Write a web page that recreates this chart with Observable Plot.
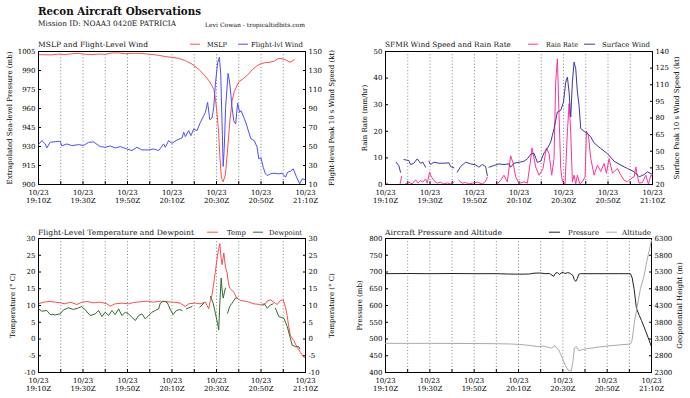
<!DOCTYPE html>
<html><head><meta charset="utf-8">
<script src="https://cdn.jsdelivr.net/npm/d3@7"></script>
<script src="https://cdn.jsdelivr.net/npm/@observablehq/plot@0.6"></script>
<style>
body{margin:0;background:#fff;}
#root{position:relative;width:690px;height:398px;overflow:hidden;background:#fff}
#root svg{position:absolute;}
</style></head><body><div id="root"></div>
<script>
// ---- time axis (minutes after 10/23 19:10Z)
const xTicks = [0,10,20,30,40,50,60,70,80,90,100,110,120];
const xGrid = [10,20,30,40,50,60,70,80,90,100,110];

// ---- Panel 1: MSLP (mb) and flight-level wind (kt)
const mslpTime = [0,3,6,9,12,15,18,21,24,27,30,33,36,39,42,45,48,51,54,57,60,63,66,69,72,75,77,78.8,79.5,80.3,81,81.5,82.2,83,84,85,86,87,88,90,92,94,96,98,100,102,104,106,107.5,109,111,113,114,115];
const mslpValue = [1002.5,1002.4,1002.3,1003,1002.6,1003.2,1003.6,1002.8,1002.5,1003,1002.8,1003.8,1003.9,1003.2,1003.6,1003.6,1003.2,1002.6,1002,1001,1000.4,999.6,997.8,995,991,985.5,981,975,968,955,940,923,905,902.2,907.4,928,950,966,973.5,981,983.5,986.5,990.5,993.5,995.5,996.2,996.5,997.5,999.3,999.5,998.5,996.6,997.5,998.5];
const windTime = [0,1.5,3,3.75,5.25,7.5,9.75,10.5,12.75,15,18,20.25,22.5,24.75,27.75,30,32.25,34.5,36.75,39.75,42,44.25,46.5,49.5,51.75,54,56.25,57,58.5,60,62.25,64.5,65.25,66,67.5,68.5,69.75,71.25,72.75,74.25,75,76,77,78,78.75,79.5,80.5,81.3,81.9,82.5,83,83.5,84.1,85.2,86,87,87.75,88.6,89.5,90.4,91,92.25,93.4,94.5,95.5,97,98.25,99,100,101,102,102.75,104.25,105.75,108,109.5,111,112,113.25,114.5,116,117.4,118.5,120];
const windValue = [51.9,56.2,52.7,48.5,54.4,55.1,55.5,50.6,52.7,50.9,52,51,54.4,54.8,49.9,49.2,50.6,48.5,49.9,47.4,45.7,49.2,46.4,46.4,47.4,45.7,52.7,49.2,56.2,53.4,56.9,59,65,60.4,66.7,61.4,68.4,66.7,75.4,82.4,85.9,96.4,78.2,80,91.2,115.7,138,144,126,73.7,29,49.2,91.2,127,115.7,91.2,77.2,73.7,95.7,85.9,87.7,80.7,73.7,65,58,56.2,49.2,37,38,28.2,21.2,19.4,21.2,21.9,21.2,21.9,17.7,23,24,26.4,17.7,10.7,16,14.9];

// ---- Panel 2: SFMR rain rate (mm/hr) and surface wind (kt); null = gap
const rainTime = [0,1,null,6.5,7.2,null,9,10.5,12,13.5,14.7,15.75,16.8,18,18.75,19.8,20.7,21.75,23.25,24.75,26.25,27.75,29.25,30.75,null,33,34.5,36,37.5,39,41.25,43.5,45,45.75,null,50.25,51.75,53.25,54.75,56.25,57.4,58.5,60,62.25,63.75,65,65.85,67.5,69,70.8,72.3,73.5,74.7,75.75,76.5,77.25,78,78.75,79.5,80.7,81.75,82.5,83.25,84,84.75,85.5,86.25,87.3,88.5,89.7,90.3,91.2,92.25,93.75,95.25,96.75,98.25,99.3,100.5,102,104.25,105.75,107.25,108.75,110.25,111.75,112.5,113.25,114,115.5,117,118.2,119.25,120];
const rainValue = [0.5,0.4,null,0,3,null,0.25,0.9,0.2,1.75,0.5,1.5,0.9,2.1,0.5,4.6,2.75,1.5,0.5,0.9,0.2,0.6,0.2,0.9,null,1.5,0.5,0.75,0.2,0.5,0.9,0.2,1.2,2.75,null,0.2,1.6,3.5,1,10.8,7.9,2.9,0.4,1,0.5,7.9,13.75,6.6,3.5,6,13.75,11.6,3.5,9.75,38.5,47.25,26,6,1,0.3,19.75,30.4,19.75,1,3.5,0.3,3.5,0.3,1,2.9,20,18.5,9.75,3.5,7.25,4.9,7.9,4.25,9.75,4.25,6,3.5,1.6,1,2.25,2.9,6.6,3,0.5,0.8,3.5,0,3.5,2.9];
const sfmrTime = [4.8,6,6.75,null,8.25,9.5,10.5,11.25,12.75,14.25,15.75,16.8,18,null,19.5,20.25,21.75,24,26.25,28.5,29.25,30.75,null,32.25,33.75,36,38.25,40.5,42,43.5,45,45.75,null,46.5,48.75,51,53.25,55.5,56.25,57.75,60,62.25,63.75,65.25,66.75,68.25,69.75,71.25,72.75,74.25,75.75,77.25,78.75,80,81,81.75,82.5,83.25,84,84.75,85.5,86.25,87,87.75,89.25,90.75,92.25,93.75,96.75,99.75,102.75,105.75,108.75,111.75,114,116.25,117.75,120];
const sfmrValue = [40.1,37,31.1,null,42.5,42,41.6,38,39.2,43.1,39.2,40.1,35.6,null,41,38,40.1,39.2,39.2,39.5,36.2,35,null,31.1,36.2,40.1,38.6,37.7,35.6,38,36.2,28.1,null,35.6,37.1,38.6,38,38.6,35.6,39.2,40,41,43.1,47.2,48.2,40,41,48.5,52.4,58.4,70.4,85.4,86.9,94.4,112.4,116.9,103.4,80.9,112.4,130.4,124.4,103.4,91.4,70.4,68,65.9,62.9,57.5,52.4,47.9,41,37.5,34.4,31.5,26.9,29,31.4,29];

// ---- Panel 3: flight-level temperature and dewpoint (°C)
const tempTime = [0,2.25,5.25,7.5,9.75,12,14.25,17.25,19.5,21.75,24.75,27.75,30.75,32.25,34.5,37.5,40.5,42.75,45.75,48.75,51.75,54.75,57.75,60.75,63.75,66,67.5,70.5,72.75,75,75.75,76.5,77.25,78,79,80,80.7,81.5,82,82.5,83.3,84,84.8,85.3,85.8,86.25,87.75,89,90.75,93.75,96.75,99.75,102,102.75,104.25,105.75,107.25,108.75,110,111,111.75,112.5,113.25,114.75,116.25,117.75,119.25,120];
const tempValue = [10.5,11,11.2,11,10.8,10.5,11,10.3,11,11.2,10.8,11,10.5,9.8,10.5,10.7,10.5,10.9,11.1,11.3,11,11.3,11.1,11,10.7,9.7,10.5,10.7,10.5,11,10,9,11.5,13.2,17.7,22.7,26,28.5,24.5,22.2,25.7,21.5,19.7,17,15.5,15,14,12.3,11.5,11.2,10.5,10.3,10.5,11.3,11.7,11,10.3,11.5,11.7,9.5,7,3.5,1,-0.5,-2.5,-4,-5.5,-5.5];
const dewTime = [0,1.5,3.75,5.25,7.5,9.75,11.25,13.5,15.75,18,19.5,21,23.25,25.5,27,28.5,30,31.5,33,34.5,36,37.5,39,40.5,42,43.5,45,46.5,48,49.5,51,52.5,54,54.75,56.25,57.75,58.5,59.3,60.5,62,63.5,64.5,null,66.5,69,null,72.5,74.3,null,77.3,78.5,79.5,80.6,81,81.5,82.1,82.5,83,83.5,84,null,85,85.9,87,88.5,89.2,null,100.8,101.5,102.8,104.3,105.5,null,106.5,108,110.3,111.8,113,114,115.5,117,117.5];
const dewValue = [9,8.3,8.5,7.3,7.2,7.5,8.7,9.3,8.8,9.3,9.7,8.7,7,7.5,8.5,6.7,8,7,8.5,7.3,9,7,8,7.5,6.5,5.5,7,7.5,6,7,8,8.5,9,10.7,11.3,11,10,8.7,7.3,8.5,8.8,8.5,null,9,9.7,null,9.5,10.7,null,12.7,10.7,7.7,4.2,2.7,10.7,18.2,14.7,12.2,13.7,15.2,null,7.7,9.7,10.7,12.2,12.3,null,10,10.5,9.2,10.2,10.5,null,9.2,6.7,6.2,3.7,0.7,-1.8,-2.3,-2.3,-3];

// ---- Panel 4: aircraft pressure (mb) and geopotential height (m)
const presTime = [0,10,20,30,40,50,55,60,65,67,70,72,74,75.9,76.5,77.5,78.5,79.2,80.2,81,82,83,83.5,84.5,85.2,85.8,86.5,87.2,88,95,100,105,110.5,111.3,112.2,113.2,114.5,115.5,117.3,119,120];
const presValue = [695,695.5,695,695.5,695,695,694,693.5,694,696.5,697,695,695.5,687,695,699,692,697,699.5,695,698,697,695,690,677,672,680,693,695,695,695,695,695,682,647,592,570,555,525,495,477];
const altTime = [0,20,40,50,57,62,66,69,71,73,75,76.4,77,78.2,79.7,81.2,82.4,83.8,84.5,85.2,86.1,87.2,88.5,90,95,100,105,110.5,111.2,112.5,113.5,115,116.5,118,120];
const altValue = [3170,3170,3165,3160,3150,3130,3100,3070,3090,3060,3030,3100,3040,2970,2750,2500,2370,2340,2600,3030,3070,2950,2980,3000,3050,3090,3120,3150,3250,3900,4250,4800,5150,5650,6250];

// ---- axis ticks
const p1LeftTicks = [900,915,930,945,960,975,990,1005];
const p1RightTicks = [10,30,50,70,90,110,130,150];
const p2LeftTicks = [0,10,20,30,40,50];
const p2RightTicks = [20,35,50,65,80,95,110,125,140];
const p3Ticks = [-10,-5,0,5,10,15,20,25,30];
const p4LeftTicks = [400,450,500,550,600,650,700,750,800];
const p4RightTicks = [2300,2800,3300,3800,4300,4800,5300,5800,6300];

const FONT = "DejaVu Serif";
const rows = (t, v) => t.map((m, i) => ({m, v: v[i]}));
function fmtTime(m) {
  if (m % 20 !== 0) return "";
  const t = 19 * 60 + 10 + m;
  return `10/23\n${Math.floor(t / 60)}:${String(t % 60).padStart(2, "0")}Z`;
}
const root = document.getElementById("root");

function panel(o) {
  const common = {
    width: o.width, height: o.height,
    marginLeft: o.mL, marginRight: o.mR, marginTop: o.mT, marginBottom: o.mB,
    style: {fontFamily: FONT, fontSize: "7px", color: "#000", background: "transparent", overflow: "visible"}
  };
  const base = Plot.plot({
    ...common,
    x: {domain: [0, 120], axis: null},
    y: {domain: o.yL, axis: null},
    marks: [
      Plot.gridX(xGrid, {stroke: "#666", strokeOpacity: 1, strokeWidth: 0.8, strokeDasharray: "1,2.2"}),
      Plot.axisX(xTicks, {tickSize: -3, tickPadding: 7, tickFormat: fmtTime, lineHeight: 1.25, label: null}),
      Plot.axisY(o.yLticks, {anchor: "left", tickSize: -3, tickPadding: 6, tickFormat: d => String(d),
        label: o.yLlabel, labelAnchor: "center", labelArrow: false, labelOffset: o.lOff}),
      Plot.line(o.s1, {x: "m", y: "v", stroke: o.c1, strokeWidth: 1}),
      Plot.frame({stroke: "#000", strokeWidth: 1})
    ]
  });
  const over = Plot.plot({
    ...common,
    x: {domain: [0, 120], axis: null},
    y: {domain: o.yR, axis: null},
    marks: [
      Plot.axisY(o.yRticks, {anchor: "right", tickSize: -3, tickPadding: 6, tickFormat: d => String(d),
        label: o.yRlabel, labelAnchor: "center", labelArrow: false, labelOffset: o.rOff}),
      Plot.line(o.s2, {x: "m", y: "v", stroke: o.c2, strokeWidth: 1})
    ]
  });
  for (const s of [base, over]) {
    s.style.left = o.left + "px";
    s.style.top = o.top + "px";
    root.appendChild(s);
  }
}

panel({left: 0, top: 36, width: 345, height: 170, mL: 38, mR: 40, mT: 15, mB: 22,
  yL: [900, 1005], yLticks: p1LeftTicks, yLlabel: "Extrapolated Sea-level Pressure (mb)", lOff: 31,
  yR: [10, 150], yRticks: p1RightTicks, yRlabel: "Flight-level Peak 10 s Wind Speed (kt)", rOff: 28,
  s1: rows(mslpTime, mslpValue), c1: "#ff4d4d", s2: rows(windTime, windValue), c2: "#4d4dff"});
panel({left: 345, top: 36, width: 345, height: 170, mL: 40, mR: 38, mT: 15, mB: 22,
  yL: [0, 50], yLticks: p2LeftTicks, yLlabel: "Rain Rate (mm/hr)", lOff: 23,
  yR: [20, 140], yRticks: p2RightTicks, yRlabel: "Surface Peak 10 s Wind Speed (kt)", rOff: 26,
  s1: rows(rainTime, rainValue), c1: "#ff3399", s2: rows(sfmrTime, sfmrValue), c2: "#3a3aa0"});
panel({left: 0, top: 223, width: 345, height: 171, mL: 38, mR: 40, mT: 15, mB: 22,
  yL: [-10, 30], yLticks: p3Ticks, yLlabel: "Temperature (° C)", lOff: 28,
  yR: [-10, 30], yRticks: p3Ticks, yRlabel: "Temperature (° C)", rOff: 28,
  s1: rows(tempTime, tempValue), c1: "#ff4d4d", s2: rows(dewTime, dewValue), c2: "#2f6b2f"});
panel({left: 345, top: 223, width: 345, height: 171, mL: 40, mR: 39, mT: 15, mB: 22,
  yL: [400, 800], yLticks: p4LeftTicks, yLlabel: "Pressure (mb)", lOff: 28,
  yR: [2300, 6300], yRticks: p4RightTicks, yRlabel: "Geopotential Height (m)", rOff: 30,
  s1: rows(presTime, presValue), c1: "#222222", s2: rows(altTime, altValue), c2: "#aaaaaa"});

// ---- titles and legends (w = rendered width in the reference)
const texts = [
  {x: 38, y: 14.5, s: "Recon Aircraft Observations", size: 11.8, bold: true, w: 163},
  {x: 38, y: 26, s: "Mission ID: NOAA3 0420E PATRICIA", size: 7.4, w: 138},
  {x: 205, y: 26.5, s: "Levi Cowan - tropicaltidbits.com", size: 6, w: 100},
  {x: 38, y: 46.5, s: "MSLP and Flight-Level Wind", size: 7.3, w: 110},
  {x: 385, y: 46.5, s: "SFMR Wind Speed and Rain Rate", size: 7.3, w: 126},
  {x: 38, y: 234.5, s: "Flight-Level Temperature and Dewpoint", size: 7.3, w: 156},
  {x: 385, y: 234.5, s: "Aircraft Pressure and Altitude", size: 7.3, w: 117}
];
const legends = [
  {x1: 190, x2: 200, tx: 207, y: 46.5, s: "MSLP", c: "#ff4d4d", w: 20},
  {x1: 238, x2: 248, tx: 251, y: 46.5, s: "Flight-lvl Wind", c: "#4d4dff", w: 52},
  {x1: 528, x2: 538, tx: 546, y: 46.5, s: "Rain Rate", c: "#ff3399", w: 32},
  {x1: 584, x2: 595, tx: 602, y: 46.5, s: "Surface Wind", c: "#3a3aa0", w: 48},
  {x1: 207, x2: 218, tx: 227, y: 234.5, s: "Temp", c: "#ff4d4d", w: 19},
  {x1: 253, x2: 263, tx: 269, y: 234.5, s: "Dewpoint", c: "#2f6b2f", w: 33},
  {x1: 549, x2: 560, tx: 568, y: 234.5, s: "Pressure", c: "#222222", w: 31},
  {x1: 606, x2: 617, tx: 622, y: 234.5, s: "Altitude", c: "#aaaaaa", w: 29}
];
const svg = d3.select(root).append("svg").attr("width", 690).attr("height", 398)
  .style("left", "0px").style("top", "0px").style("pointer-events", "none")
  .attr("font-family", FONT);
svg.selectAll("text.t").data(texts).join("text").attr("class", "t")
  .attr("x", d => d.x).attr("y", d => d.y).attr("font-size", d => d.size)
  .attr("textLength", d => d.w).attr("lengthAdjust", "spacingAndGlyphs")
  .attr("font-weight", d => d.bold ? "bold" : null).attr("fill", "#111").text(d => d.s);
svg.selectAll("line.l").data(legends).join("line").attr("class", "l")
  .attr("x1", d => d.x1).attr("x2", d => d.x2).attr("y1", d => d.y - 2.3).attr("y2", d => d.y - 2.3)
  .attr("stroke", d => d.c).attr("stroke-width", 1);
svg.selectAll("text.l").data(legends).join("text").attr("class", "l")
  .attr("x", d => d.tx).attr("y", d => d.y).attr("font-size", 6.9)
  .attr("textLength", d => d.w).attr("lengthAdjust", "spacingAndGlyphs")
  .attr("fill", "#111").text(d => d.s);
</script></body></html>
